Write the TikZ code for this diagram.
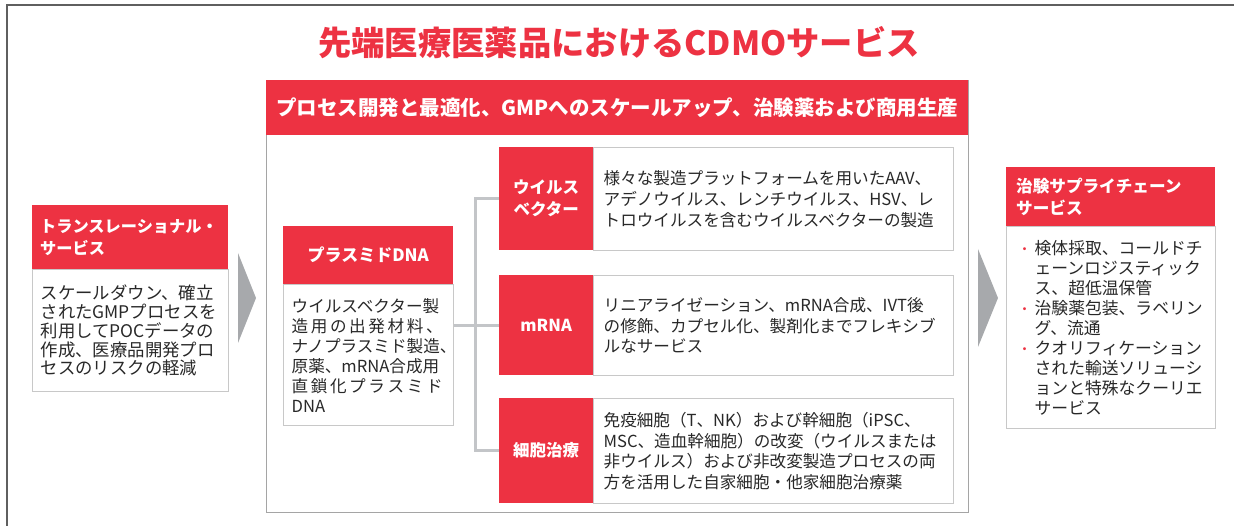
\documentclass[tikz,border=0pt]{standalone}
\usepackage{fontspec}
\setmainfont{Noto Sans CJK JP}
\definecolor{cred}{RGB}{237,50,66}
\definecolor{frameg}{RGB}{95,95,95}
\definecolor{boxg}{RGB}{200,200,200}
\definecolor{mainb}{RGB}{165,165,165}
\definecolor{txt}{RGB}{40,40,40}
\definecolor{arrowg}{RGB}{167,169,172}
\definecolor{conng}{RGB}{195,197,200}
\newcommand\rbul{\makebox[15pt][l]{\hspace*{-2pt}\textcolor{cred}{\fontsize{14}{14}\selectfont ・}}}
\newcommand\bind{\hspace*{15pt}}
\newcommand\jline[2]{\leavevmode\hbox to #1{#2}}
\begin{document}
\begin{tikzpicture}[x=1pt,y=-1pt,
  redbox/.style={fill=cred, draw=none, text=white, font=\bfseries\fontsize{16.5}{22}\selectfont, inner sep=0pt, align=center, anchor=north west},
  whitebox/.style={fill=white, draw=boxg, line width=1.3pt, inner ysep=0pt, anchor=north west, text=txt},
  conn/.style={draw=conng, line width=3pt},
  chevron/.style={fill=arrowg, draw=none}]
\useasboundingbox (0,0) rectangle (1234,526);
% outer frame
\draw[frameg, line width=1.6pt] (1234,5) -- (7,5) -- (7,526);
% title
\node[text=cred, font=\bfseries\fontsize{33.3}{38}\selectfont] (title) at (619,43) {先端医療医薬品におけるCDMOサービス};
% main box and banner
\node[draw=mainb, line width=1.3pt, minimum width=702pt, minimum height=432pt, anchor=north west, inner sep=0pt] (main) at (266,80) {};
\node[redbox, minimum width=702pt, minimum height=55pt, font=\bfseries\fontsize{20.5}{24}\selectfont] (banner) at (266,80) {プロセス開発と最適化、GMPへのスケールアップ、治験薬および商用生産};
% left: translational
\node[whitebox, minimum width=196pt, minimum height=122pt, text width=180pt, inner xsep=8pt, align=left, font=\fontsize{17.4}{18.8}\selectfont] (lbody) at (32,269) {スケールダウン、確立\\されたGMPプロセスを\\利用してPOCデータの\\作成、医療品開発プロ\\セスのリスクの軽減};
\node[redbox, minimum width=196pt, minimum height=64pt, text width=180pt, inner xsep=8pt, align=left, font=\bfseries\fontsize{16.2}{22}\selectfont] (lhead) at (32,205) {トランスレーショナル・\\サービス};
% plasmid DNA
\node[whitebox, minimum width=170pt, minimum height=141pt, text width=154pt, inner xsep=8pt, align=left, font=\fontsize{16.6}{20}\selectfont] (pbody) at (283,284) {ウイルスベクター製\\\jline{151pt}{造\hfill 用\hfill の\hfill 出\hfill 発\hfill 材\hfill 料\hfill 、}\\ナノプラスミド製造、\\原薬、mRNA合成用\\\jline{151pt}{直\hfill 鎖\hfill 化\hfill プ\hfill ラ\hfill ス\hfill ミ\hfill ド}\\DNA};
\node[redbox, minimum width=170pt, minimum height=58pt, font=\bfseries\fontsize{17}{22}\selectfont] (phead) at (283,226) {プラスミドDNA};
% description boxes
\node[whitebox, minimum width=360pt, minimum height=103pt, text width=340pt, inner xsep=10pt, align=left, font=\fontsize{16.6}{21}\selectfont] (vdesc) at (593,147) {様々な製造プラットフォームを用いたAAV、\\アデノウイルス、レンチウイルス、HSV、レ\\トロウイルスを含むウイルスベクターの製造};
\node[whitebox, minimum width=360pt, minimum height=100pt, text width=340pt, inner xsep=10pt, align=left, font=\fontsize{16.6}{20.5}\selectfont] (mdesc) at (593,275) {リニアライゼーション、mRNA合成、IVT後\\の修飾、カプセル化、製剤化までフレキシブ\\ルなサービス};
\node[whitebox, minimum width=360pt, minimum height=105pt, text width=340pt, inner xsep=10pt, align=left, font=\fontsize{16.6}{20.5}\selectfont] (cdesc) at (593,398) {免疫細胞（T、NK）および幹細胞（iPSC、\\MSC、造血幹細胞）の改変（ウイルスまたは\\非ウイルス）および非改変製造プロセスの両\\方を活用した自家細胞・他家細胞治療薬};
% red category boxes
\node[redbox, minimum width=94pt, minimum height=103pt] (vec) at (499,147) {ウイルス\\ベクター};
\node[redbox, minimum width=94pt, minimum height=100pt] (mrna) at (499,275) {mRNA};
\node[redbox, minimum width=94pt, minimum height=105pt] (cell) at (499,398) {細胞治療};
% connectors
\coordinate (jx) at (475,0);
\draw[conn] (vec.west) -- (vec.west -| jx) -- (cell.west -| jx) -- (cell.west);
\draw[conn] (pbody.east |- mrna.west) -- (mrna.west);
% chevrons
\fill[chevron] (238,253) -- (256,298) -- (238,343) -- cycle;
\fill[chevron] (978,249) -- (998,298) -- (978,347) -- cycle;
% right: clinical supply chain
\node[whitebox, minimum width=209pt, minimum height=202pt, text width=183pt, inner xsep=13pt, align=left, font=\fontsize{16.8}{20}\selectfont] (rbody) at (1006,226) {\rbul 検体採取、コールドチ\\\bind ェーンロジスティック\\\bind ス、超低温保管\\\rbul 治験薬包装、ラベリン\\\bind グ、流通\\\rbul クオリフィケーション\\\bind された輸送ソリューシ\\\bind ョンと特殊なクーリエ\\\bind サービス};
\node[redbox, minimum width=209pt, minimum height=59pt, text width=189pt, inner xsep=10pt, align=left, font=\bfseries\fontsize{16.6}{22}\selectfont] (rhead) at (1006,167) {治験サプライチェーン\\サービス};
\end{tikzpicture}
\end{document}
